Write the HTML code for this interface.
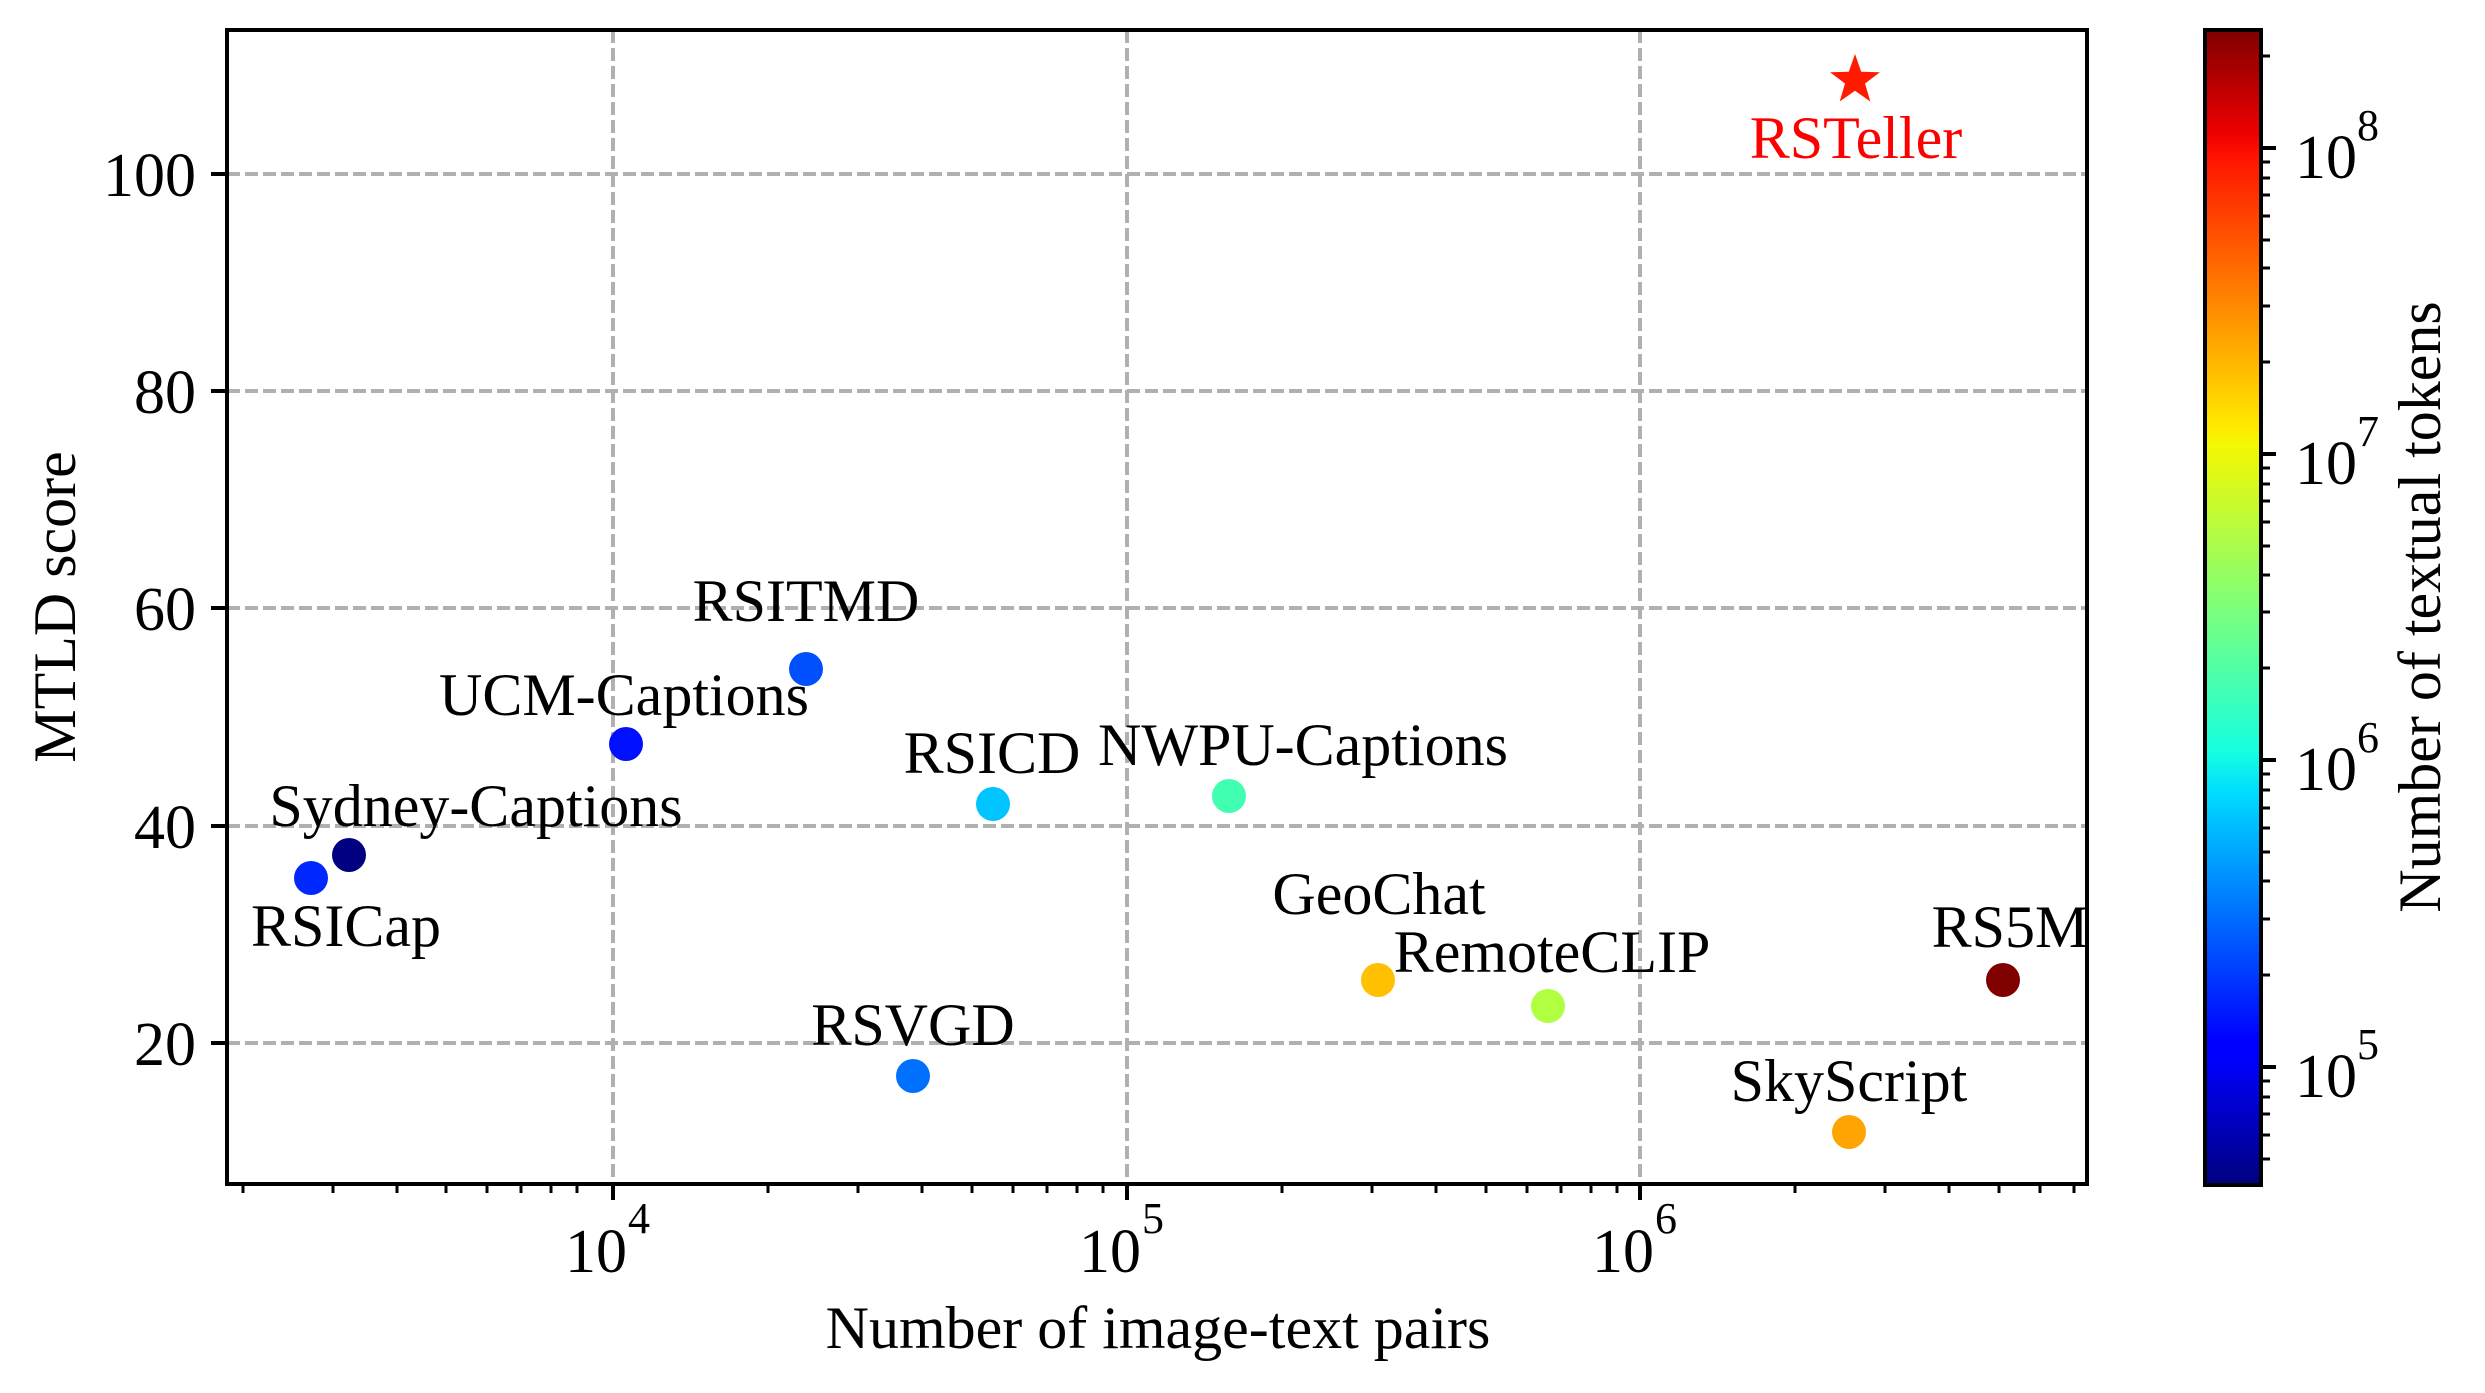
<!DOCTYPE html>
<html><head><meta charset="utf-8"><style>
html,body{margin:0;padding:0;background:#fff}
svg{display:block}
text{font-family:"Liberation Serif",serif;fill:#000}
</style></head><body>
<svg width="2485" height="1393" viewBox="0 0 2485 1393" xmlns="http://www.w3.org/2000/svg">
<defs>
<linearGradient id="jet" x1="0" y1="1" x2="0" y2="0">
<stop offset="0" stop-color="#00007f"/>
<stop offset="0.11" stop-color="#0000ff"/>
<stop offset="0.125" stop-color="#0000ff"/>
<stop offset="0.34" stop-color="#00dcff"/>
<stop offset="0.375" stop-color="#16ffe1"/>
<stop offset="0.5" stop-color="#7dff7a"/>
<stop offset="0.64" stop-color="#f4f802"/>
<stop offset="0.66" stop-color="#ffe600"/>
<stop offset="0.89" stop-color="#ff1300"/>
<stop offset="0.91" stop-color="#ee0000"/>
<stop offset="1" stop-color="#7f0000"/>
</linearGradient>
</defs>
<g stroke="#b0b0b0" stroke-width="4" stroke-dasharray="13,5">
<line x1="227" y1="174" x2="2087" y2="174"/>
<line x1="227" y1="391" x2="2087" y2="391"/>
<line x1="227" y1="608" x2="2087" y2="608"/>
<line x1="227" y1="826" x2="2087" y2="826"/>
<line x1="227" y1="1043" x2="2087" y2="1043"/>
<line x1="613" y1="30" x2="613" y2="1184"/>
<line x1="1127" y1="30" x2="1127" y2="1184"/>
<line x1="1640" y1="30" x2="1640" y2="1184"/>
</g>
<rect x="227" y="30" width="1860" height="1154" fill="none" stroke="#000" stroke-width="4"/>
<g stroke="#000" stroke-width="4">
<line x1="211" y1="174" x2="227" y2="174"/>
<line x1="211" y1="391" x2="227" y2="391"/>
<line x1="211" y1="608" x2="227" y2="608"/>
<line x1="211" y1="826" x2="227" y2="826"/>
<line x1="211" y1="1043" x2="227" y2="1043"/>
<line x1="613" y1="1184" x2="613" y2="1200"/>
<line x1="1127" y1="1184" x2="1127" y2="1200"/>
<line x1="1640" y1="1184" x2="1640" y2="1200"/>
</g>
<g stroke="#000" stroke-width="3">
<line x1="243" y1="1184" x2="243" y2="1193"/>
<line x1="333" y1="1184" x2="333" y2="1193"/>
<line x1="397" y1="1184" x2="397" y2="1193"/>
<line x1="446" y1="1184" x2="446" y2="1193"/>
<line x1="487" y1="1184" x2="487" y2="1193"/>
<line x1="521" y1="1184" x2="521" y2="1193"/>
<line x1="551" y1="1184" x2="551" y2="1193"/>
<line x1="577" y1="1184" x2="577" y2="1193"/>
<line x1="768" y1="1184" x2="768" y2="1193"/>
<line x1="858" y1="1184" x2="858" y2="1193"/>
<line x1="922" y1="1184" x2="922" y2="1193"/>
<line x1="972" y1="1184" x2="972" y2="1193"/>
<line x1="1013" y1="1184" x2="1013" y2="1193"/>
<line x1="1047" y1="1184" x2="1047" y2="1193"/>
<line x1="1077" y1="1184" x2="1077" y2="1193"/>
<line x1="1103" y1="1184" x2="1103" y2="1193"/>
<line x1="1282" y1="1184" x2="1282" y2="1193"/>
<line x1="1372" y1="1184" x2="1372" y2="1193"/>
<line x1="1436" y1="1184" x2="1436" y2="1193"/>
<line x1="1486" y1="1184" x2="1486" y2="1193"/>
<line x1="1527" y1="1184" x2="1527" y2="1193"/>
<line x1="1561" y1="1184" x2="1561" y2="1193"/>
<line x1="1591" y1="1184" x2="1591" y2="1193"/>
<line x1="1617" y1="1184" x2="1617" y2="1193"/>
<line x1="1795" y1="1184" x2="1795" y2="1193"/>
<line x1="1885" y1="1184" x2="1885" y2="1193"/>
<line x1="1949" y1="1184" x2="1949" y2="1193"/>
<line x1="1999" y1="1184" x2="1999" y2="1193"/>
<line x1="2040" y1="1184" x2="2040" y2="1193"/>
<line x1="2074" y1="1184" x2="2074" y2="1193"/>
</g>
<g font-size="62" text-anchor="end">
<text x="196" y="196">100</text>
<text x="196" y="413">80</text>
<text x="196" y="630">60</text>
<text x="196" y="848">40</text>
<text x="196" y="1065">20</text>
</g>
<g font-size="62">
<text x="596" y="1272" text-anchor="middle">10</text><text x="628" y="1233" font-size="44">4</text>
<text x="1110" y="1272" text-anchor="middle">10</text><text x="1142" y="1233" font-size="44">5</text>
<text x="1623" y="1272" text-anchor="middle">10</text><text x="1655" y="1233" font-size="44">6</text>
</g>
<text x="1158" y="1348" font-size="60" text-anchor="middle">Number of image-text pairs</text>
<text transform="translate(75,607) rotate(-90)" font-size="60" text-anchor="middle">MTLD score</text>
<circle cx="806" cy="669" r="17" fill="#0050ff"/>
<circle cx="626" cy="744" r="17" fill="#0010ff"/>
<circle cx="349" cy="855" r="17" fill="#000080"/>
<circle cx="311" cy="878" r="17" fill="#0028ff"/>
<circle cx="993" cy="804" r="17" fill="#00c4ff"/>
<circle cx="1229" cy="796" r="17" fill="#40ffb0"/>
<circle cx="913" cy="1076" r="17" fill="#0070ff"/>
<circle cx="1378" cy="980" r="17" fill="#ffc000"/>
<circle cx="1548" cy="1006" r="17" fill="#b0ff40"/>
<circle cx="2003" cy="980" r="17" fill="#800000"/>
<circle cx="1849" cy="1132" r="17" fill="#ffa400"/>
<polygon fill="#ff1a00" points="1855,54 1861.2,71.8 1879.9,72.2 1865,83.5 1870.3,101.5 1855,90.8 1839.7,101.5 1845,83.5 1830.1,72.2 1848.8,71.8"/>
<g font-size="60" text-anchor="middle">
<text x="1856" y="158" style="fill:#ff0000">RSTeller</text>
<text x="806" y="621">RSITMD</text>
<text x="624" y="715">UCM-Captions</text>
<text x="476" y="826">Sydney-Captions</text>
<text x="346" y="946">RSICap</text>
<text x="992" y="773">RSICD</text>
<text x="1303" y="765">NWPU-Captions</text>
<text x="913" y="1045">RSVGD</text>
<text x="1379" y="914">GeoChat</text>
<text x="1552" y="972">RemoteCLIP</text>
<text x="2010" y="947">RS5M</text>
<text x="1849" y="1101">SkyScript</text>
</g>
<rect x="2205" y="30" width="56" height="1155" fill="url(#jet)" stroke="#000" stroke-width="4"/>
<g stroke="#000" stroke-width="4">
<line x1="2261" y1="148" x2="2276" y2="148"/>
<line x1="2261" y1="454" x2="2276" y2="454"/>
<line x1="2261" y1="760" x2="2276" y2="760"/>
<line x1="2261" y1="1067" x2="2276" y2="1067"/>
</g>
<g stroke="#000" stroke-width="3">
<line x1="2261" y1="56" x2="2270" y2="56"/>
<line x1="2261" y1="162" x2="2270" y2="162"/>
<line x1="2261" y1="178" x2="2270" y2="178"/>
<line x1="2261" y1="195" x2="2270" y2="195"/>
<line x1="2261" y1="216" x2="2270" y2="216"/>
<line x1="2261" y1="240" x2="2270" y2="240"/>
<line x1="2261" y1="268" x2="2270" y2="268"/>
<line x1="2261" y1="306" x2="2270" y2="306"/>
<line x1="2261" y1="362" x2="2270" y2="362"/>
<line x1="2261" y1="468" x2="2270" y2="468"/>
<line x1="2261" y1="484" x2="2270" y2="484"/>
<line x1="2261" y1="501" x2="2270" y2="501"/>
<line x1="2261" y1="522" x2="2270" y2="522"/>
<line x1="2261" y1="546" x2="2270" y2="546"/>
<line x1="2261" y1="575" x2="2270" y2="575"/>
<line x1="2261" y1="612" x2="2270" y2="612"/>
<line x1="2261" y1="668" x2="2270" y2="668"/>
<line x1="2261" y1="774" x2="2270" y2="774"/>
<line x1="2261" y1="790" x2="2270" y2="790"/>
<line x1="2261" y1="808" x2="2270" y2="808"/>
<line x1="2261" y1="828" x2="2270" y2="828"/>
<line x1="2261" y1="852" x2="2270" y2="852"/>
<line x1="2261" y1="881" x2="2270" y2="881"/>
<line x1="2261" y1="919" x2="2270" y2="919"/>
<line x1="2261" y1="975" x2="2270" y2="975"/>
<line x1="2261" y1="1081" x2="2270" y2="1081"/>
<line x1="2261" y1="1097" x2="2270" y2="1097"/>
<line x1="2261" y1="1114" x2="2270" y2="1114"/>
<line x1="2261" y1="1135" x2="2270" y2="1135"/>
<line x1="2261" y1="1159" x2="2270" y2="1159"/>
</g>
<g font-size="62">
<text x="2295" y="178">10</text><text x="2357" y="140" font-size="44">8</text>
<text x="2295" y="484">10</text><text x="2357" y="446" font-size="44">7</text>
<text x="2295" y="790">10</text><text x="2357" y="752" font-size="44">6</text>
<text x="2295" y="1097">10</text><text x="2357" y="1059" font-size="44">5</text>
</g>
<text transform="translate(2440,607) rotate(-90)" font-size="60" text-anchor="middle">Number of textual tokens</text>
</svg>
</body></html>
